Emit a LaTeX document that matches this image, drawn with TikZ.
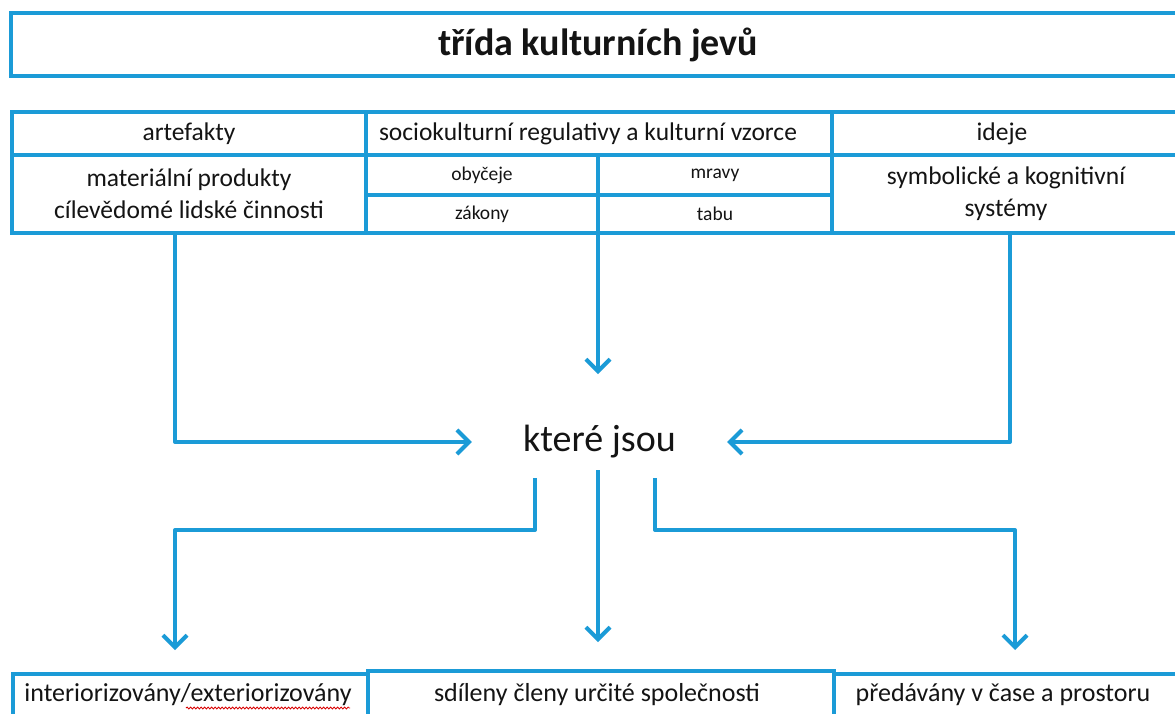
\documentclass[tikz,border=0pt]{standalone}
\usepackage{fontspec}
\setmainfont{Carlito}
\usetikzlibrary{arrows.meta,decorations.pathmorphing}
\definecolor{lineblue}{RGB}{27,155,215}
\definecolor{txt}{RGB}{20,20,20}
\tikzset{
  cell/.style={draw=lineblue, line width=4pt, rectangle, inner sep=0pt, text=txt, align=center, font=\fontsize{25.5}{32}\selectfont},
  smallcell/.style={cell, font=\fontsize{19.5}{22}\selectfont},
  plaintext/.style={text=txt, font=\fontsize{26}{30}\selectfont},
  conn/.style={draw=lineblue, line width=4pt, line join=round, -{Straight Barb[length=12pt,width=24pt,line width=4pt]}},
}
\begin{document}
\begin{tikzpicture}[x=1pt,y=-1pt]
\useasboundingbox (0,0) rectangle (1175,713);
\clip (0,0) rectangle (1175,713);
\fill[white] (0,0) rectangle (1175,713);
% title
\node[cell, minimum width=1174pt, minimum height=63pt, font=\fontsize{38}{42}\bfseries\selectfont] (title) at (598,44.5) {třída kulturních jevů};
% table header
\node[cell, minimum width=354pt, minimum height=43pt] (art) at (189,133.5) {artefakty};
\node[cell, minimum width=466pt, minimum height=43pt] (soc) at (599,133.5) {\hspace*{-22pt}sociokulturní regulativy a kulturní vzorce};
\node[cell, minimum width=348pt, minimum height=43pt] (ide) at (1006,133.5) {\hspace*{-8pt}ideje};
% table body
\node[cell, minimum width=354pt, minimum height=78pt] (mat) at (189,194) {materiální produkty\\cílevědomé lidské činnosti};
\node[smallcell, minimum width=232pt, minimum height=40pt] (oby) at (482,175) {obyčeje};
\node[smallcell, minimum width=234pt, minimum height=40pt] (mra) at (715,175) {mravy};
\node[smallcell, minimum width=232pt, minimum height=38pt] (zak) at (482,214) {zákony};
\node[smallcell, minimum width=234pt, minimum height=38pt] (tab) at (715,214) {tabu};
\node[cell, minimum width=348pt, minimum height=78pt] (sym) at (1006,194) {symbolické a kognitivní\\systémy};
% central node
\node[inner sep=0pt, minimum width=255pt, minimum height=60pt, text=txt, font=\fontsize{38}{42}\selectfont] (kj) at (599.5,442) {které jsou};
% bottom boxes
\node[cell, minimum width=355pt, minimum height=80pt, anchor=north west] (int) at (11,672) {};
\node[cell, minimum width=466pt, minimum height=80pt, anchor=north west] (sdi) at (366,669) {};
\node[cell, minimum width=360pt, minimum height=80pt, anchor=north west] (pre) at (832,672) {};
\node[plaintext] (tint) at (188,695) {interiorizovány/exteriorizovány};
\node[plaintext] (tsdi) at (597,695) {sdíleny členy určité společnosti};
\node[plaintext] (tpre) at (1003,695) {předávány v čase a prostoru};
\coordinate (w1) at (186,708);
\coordinate (w2) at (350,708);
\draw[red!85!black, line width=0.8pt, decorate, decoration={snake, amplitude=1pt, segment length=3.5pt}] (w1) -- (w2);
% coordinates for connectors
\coordinate (a1) at (175,233);
\coordinate (a2) at (598,233);
\coordinate (a2e) at (598,374);
\coordinate (a3) at (1010,233);
\coordinate (b1) at (535,478);
\coordinate (b1m) at (535,530);
\coordinate (b1e) at (175,650);
\coordinate (b2) at (598,470);
\coordinate (b2e) at (598,642);
\coordinate (b3) at (655,478);
\coordinate (b3m) at (655,530);
\coordinate (b3e) at (1015,650);
% connectors
\draw[conn] (a1) |- (kj.west);
\draw[conn] (a2) -- (a2e);
\draw[conn] (a3) |- (kj.east);
\draw[conn] (b1) -- (b1m) -| (b1e);
\draw[conn] (b2) -- (b2e);
\draw[conn] (b3) -- (b3m) -| (b3e);
\end{tikzpicture}
\end{document}
